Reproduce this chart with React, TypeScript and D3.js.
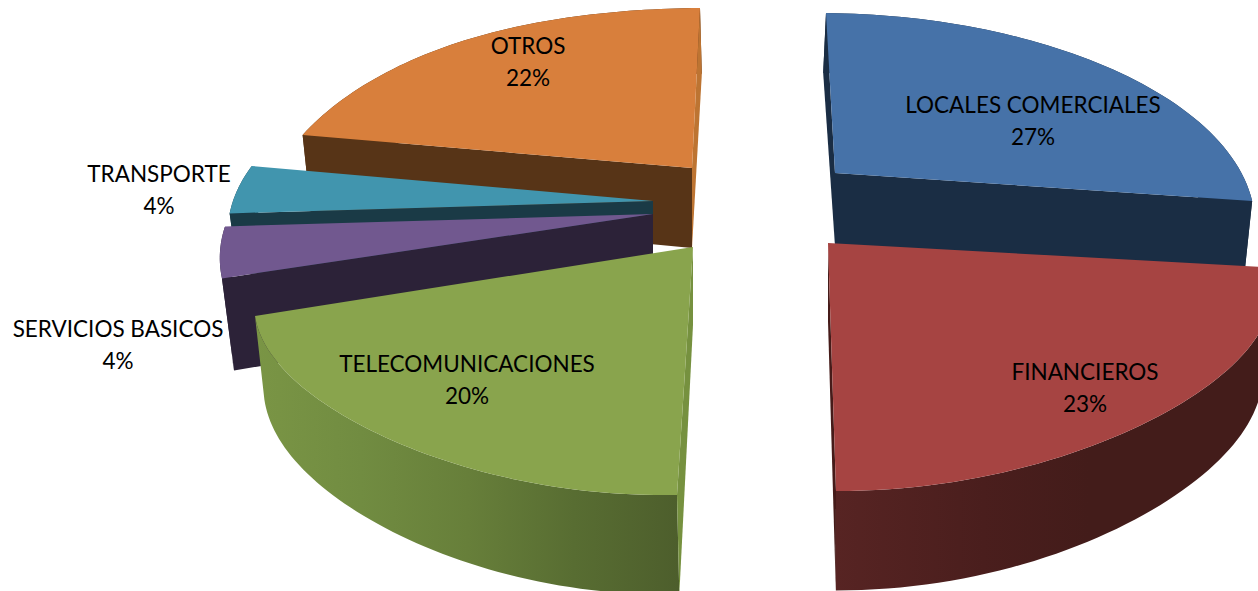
import React from "react";
import * as d3 from "d3";

const categories = ["LOCALES COMERCIALES", "FINANCIEROS", "TELECOMUNICACIONES", "SERVICIOS BASICOS", "TRANSPORTE", "OTROS"];
const shares = [27, 23, 20, 4, 4, 22];
const percentLabels = ["27%", "23%", "20%", "4%", "4%", "22%"];

const W = 1258, H = 591;
const PERSP = 0.2157, KY = 194.5;

// per-slice exploded layout (index matches categories)
const layouts = [
  { ax: 835, ay: 173, rx: 408, skew: -9, bskew: -3, tilt: 3, bulge: 0, depth: 73, shrink: 0.98 },
  { ax: 828, ay: 243, rx: 432, skew: -8, bskew: 0, tilt: 0, bulge: 10, depth: 78, shrink: 0.98 },
  { ax: 693, ay: 247, rx: 425, skew: 16, bskew: -2, tilt: -8.5, bulge: 10, depth: 78, shrink: 0.98 },
  { ax: 653, ay: 214, rx: 423, skew: 0, bskew: 0, tilt: 0, bulge: 0, depth: 86, shrink: 0.972 },
  { ax: 653, ay: 201, rx: 420, skew: -25, bskew: 0, tilt: 0, bulge: 0, depth: 60, shrink: 0.98 },
  { ax: 692, ay: 168, rx: 414, skew: 8, bskew: 2, tilt: -2.5, bulge: 3, depth: 80, shrink: 0.98 },
];
const topColors = ["#4672a8", "#a64442", "#89a44d", "#71588f", "#4195ae", "#d87f3c"];
const startWall = ["#1a2d44", "#461b19", "#76913f", "#2c2238", "#1a3a46", "#573417"];
const endWall = ["#1a2d44", "#461b19", "#2c2238", "#2c2238", "#1a3a46", "#bd7432"];
const showStart = [true, false, true, true, true, true];
const showEnd = [true, true, false, false, false, true];
const outerFill = ["#1a2d44", "url(#redSide)", "url(#greenSide)", "#2c2238", "#1a3a46", "#573417"];
const labelAnchors: [number, number][] = [[1033, 104], [1085, 371], [467, 363], [118, 328], [159, 173], [528, 45]];
const drawOrder = [5, 0, 4, 3, 1, 2];

type L = (typeof layouts)[number];
function top(s: L, t: number): [number, number] {
  const c = Math.cos(t), den = 1 + PERSP * c;
  const b = Math.sin(2 * t) ** 2;
  return [s.ax + (s.rx * Math.sin(t)) / den + s.skew * c, s.ay - (KY * c) / den + s.tilt * Math.sin(t) - s.bulge * b];
}
function bottom(s: L, t: number): [number, number] {
  const [x, y] = top(s, t);
  const c = Math.cos(t), den = 1 + PERSP * c;
  return [s.ax + (x - s.ax) * s.shrink + s.bskew * c, y + s.depth / den];
}

export default function App() {
  const arcs = d3.pie<number>().sort(null).value((d) => d)(shares);
  const line = d3.line();
  const closed = (p: [number, number][]) => line(p)! + "Z";
  const slices = arcs.map((a, i) => {
    const s = layouts[i];
    const ts = d3.range(0, 61).map((k) => a.startAngle + ((a.endAngle - a.startAngle) * k) / 60);
    const topArc = ts.map((t) => top(s, t));
    const botArc = ts.map((t) => bottom(s, t));
    const A: [number, number] = [s.ax, s.ay];
    const Ab: [number, number] = [s.ax, s.ay + s.depth];
    return {
      face: closed([A, ...topArc]),
      outer: closed([...topArc, ...botArc.slice().reverse()]),
      wallS: closed([A, Ab, botArc[0], topArc[0]]),
      wallE: closed([A, Ab, botArc[60], topArc[60]]),
    };
  });
  const font = "Lato, Carlito, sans-serif";
  return (
    <svg width={W} height={H} viewBox={`0 0 ${W} ${H}`} style={{ position: "fixed", left: 0, top: 0, background: "#fff" }}>
      <defs>
        <linearGradient id="greenSide" gradientUnits="userSpaceOnUse" x1="255" x2="680" y1="0" y2="0">
          <stop offset="0" stopColor="#7a9545" />
          <stop offset="0.25" stopColor="#718c41" />
          <stop offset="0.5" stopColor="#677f3a" />
          <stop offset="0.75" stopColor="#586d32" />
          <stop offset="1" stopColor="#4d5e2c" />
        </linearGradient>
        <linearGradient id="redSide" gradientUnits="userSpaceOnUse" x1="835" x2="1258" y1="0" y2="0">
          <stop offset="0" stopColor="#572423" />
          <stop offset="0.35" stopColor="#4a1e1d" />
          <stop offset="0.6" stopColor="#431c1a" />
          <stop offset="1" stopColor="#431c1a" />
        </linearGradient>
      </defs>
      {drawOrder.map((i) => {
        const p = slices[i];
        return (
          <g key={categories[i]}>
            <path d={p.outer} fill={outerFill[i]} />
            {showEnd[i] && <path d={p.wallE} fill={endWall[i]} />}
            {showStart[i] && <path d={p.wallS} fill={startWall[i]} />}
            <path d={p.face} fill={topColors[i]} />
          </g>
        );
      })}
      {categories.map((c, i) => (
        <g key={c} fontFamily={font} fontSize={22.5} fill="#000" textAnchor="middle">
          <text x={labelAnchors[i][0]} y={labelAnchors[i][1]} dominantBaseline="central">{c}</text>
          <text x={labelAnchors[i][0]} y={labelAnchors[i][1] + 32} dominantBaseline="central">{percentLabels[i]}</text>
        </g>
      ))}
    </svg>
  );
}
